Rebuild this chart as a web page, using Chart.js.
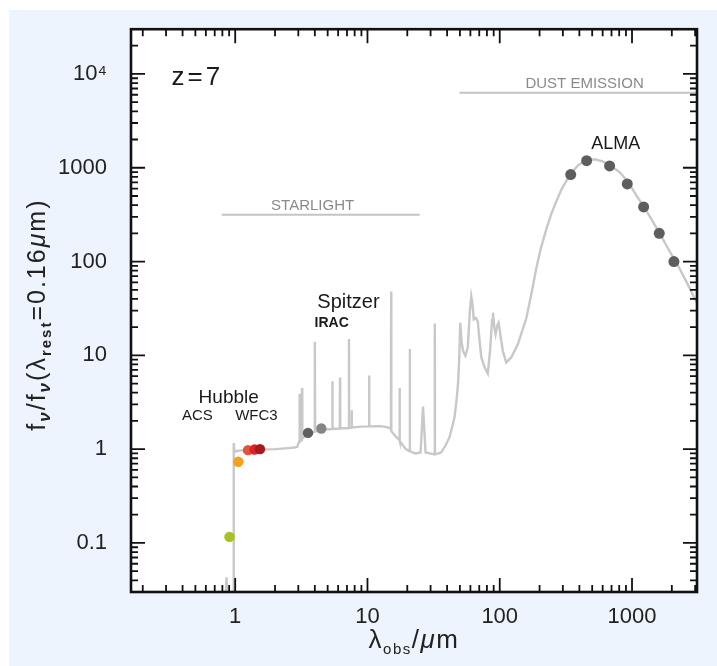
<!DOCTYPE html>
<html>
<head>
<meta charset="utf-8">
<script src="https://cdn.jsdelivr.net/npm/chart.js@4.4.1/dist/chart.umd.min.js"></script>
<style>
  html, body { margin: 0; padding: 0; background: #ffffff; }
  canvas { display: block; }
</style>
</head>
<body>
<canvas id="c" width="717" height="666"></canvas>
<script>
// ---------------- DATA ----------------
// Model SED (observed wavelength in micron, normalised flux)
const specWave = [0.80, 0.845, 0.86, 0.875, 0.97, 0.975, 0.985, 1.0, 1.05, 1.1, 1.2, 1.4, 1.7, 2.0, 2.4, 2.8, 2.95,
  3.0, 3.05, 3.07, 3.09, 3.15, 3.19, 3.2, 3.215, 3.4, 3.7, 3.98, 4.0, 4.02, 4.5, 5.0, 5.41, 5.43, 5.45,
  6.18, 6.2, 6.22, 7.23, 7.25, 7.27, 7.58, 7.6, 7.62, 9.0, 10.27, 10.3, 10.33, 12.5, 14.0, 15.05, 15.1, 15.15,
  16.5, 17.45, 17.5, 17.55, 18.5, 19.5, 20.85, 20.9, 20.95, 23.0, 25.2, 26.3, 27.5, 32.2, 32.3, 32.4,
  36, 39, 41.8, 44, 45.5, 47, 48.4, 49.5, 50.3, 51.5, 52.7, 55, 57.3, 59.5, 60.9, 62.3, 63.6, 66, 68.2,
  70.5, 72.6, 76.8, 81.2, 84.5, 87.5, 88.9, 91, 93, 96, 98, 101.5, 105.5, 111.8, 122, 137, 159, 175, 189,
  205, 226, 245, 267, 295, 327, 360, 390, 450, 521, 600, 700, 805, 940, 1075, 1250, 1440, 1650, 1930,
  2250, 2570, 3100];
const specFlux = [0.02, 0.025, 0.043, 0.025, 0.02, 1.16, 0.93, 0.95, 0.96, 0.97, 0.975, 0.985, 0.995, 1.0, 1.02, 1.04, 1.06,
  1.15, 1.2, 3.9, 1.22, 1.25, 1.28, 4.5, 1.3, 1.38, 1.47, 1.53, 14.0, 1.54, 1.6, 1.63, 1.64, 5.3, 1.64,
  1.66, 5.8, 1.66, 1.68, 14.9, 1.68, 1.7, 2.6, 1.7, 1.74, 1.75, 6.1, 1.75, 1.76, 1.72, 1.65, 48, 1.55,
  1.35, 1.25, 4.5, 1.22, 1.1, 1.0, 0.95, 11.7, 0.95, 0.9, 0.92, 2.85, 0.92, 0.88, 21.8, 0.88,
  0.92, 1.1, 1.35, 1.8, 2.2, 3.2, 5.0, 10, 22.3, 14, 11.2, 9.9, 12.1, 30, 42.7, 35, 24.2, 25, 23.2,
  14, 9.5, 7.45, 6.4, 11.2, 24, 28.5, 20, 16.8, 21, 22.3, 16, 11.2, 8.4, 9.5, 13.1, 25, 48, 85,
  140, 226, 320, 434, 600, 772, 930, 1060, 1200, 1230, 1170, 1030, 900, 700, 510, 370, 265, 190, 128,
  88, 61.5, 36];

// Photometry
const acsWave = [0.905, 1.055];
const acsFlux = [0.116, 0.733];
const wfc3Wave = [1.25, 1.40, 1.54];
const wfc3Flux = [0.976, 0.99, 1.0];
const iracWave = [3.55, 4.48];
const iracFlux = [1.49, 1.66];
const almaWave = [344, 454, 677, 921, 1224, 1607, 2074];
const almaFlux = [845, 1189, 1045, 673, 382, 200, 100];

// Emission component ranges
const starlightRange = [0.79, 24.8];
const starlightLevel = 316;
const dustRange = [49.6, 3100];
const dustLevel = 6300;

// Ticks
const xTickValues = [1, 10, 100, 1000];
const xTickLabels = ['1', '10', '100', '1000'];
const yTickValues = [0.1, 1, 10, 100, 1000, 10000];
const yTickLabels = ['0.1', '1', '10', '100', '1000', '10\u2074'];

// ---------------- STYLE ----------------
const FONT = '"Liberation Sans", Arial, sans-serif';
const acsColors = ['#a6c41e', '#f5a11c'];
const wfc3Colors = ['#e9523a', '#d8232a', '#a8191d'];
const iracColors = ['#5f5f5f', '#858585'];
const almaColor = '#5e5e5e';

const pts = (xs, ys) => xs.map((x, i) => ({ x: x, y: ys[i] }));

const bgPlugin = {
  id: 'bg',
  beforeDraw(chart) {
    const c = chart.ctx, a = chart.chartArea;
    c.save();
    c.fillStyle = '#ffffff';
    c.fillRect(0, 0, chart.width, chart.height);
    c.fillStyle = '#edf4fd';
    c.fillRect(9, 10, chart.width - 9, chart.height - 10);
    c.fillStyle = '#ffffff';
    c.fillRect(a.left, a.top, a.right - a.left, a.bottom - a.top);
    c.restore();
  }
};

function minorValues(min, max) {
  const out = [];
  for (let e = -3; e <= 5; e++) {
    for (let m = 1; m <= 9; m++) {
      const v = m * Math.pow(10, e);
      if (v >= min * 0.999 && v <= max * 1.001) out.push({ v: v, major: m === 1 });
    }
  }
  return out;
}

function richText(c, parts, x, y, align, spacing) {
  c.letterSpacing = (spacing || 0) + 'px';
  let total = 0;
  parts.forEach(p => { c.font = (p.style || '') + ' ' + p.size + 'px ' + FONT; p.w = c.measureText(p.t).width; total += p.w; });
  let cx = align === 'center' ? x - total / 2 : x;
  parts.forEach(p => {
    c.font = (p.style || '') + ' ' + p.size + 'px ' + FONT;
    c.textAlign = 'left';
    c.fillText(p.t, cx, y + (p.dy || 0));
    cx += p.w;
  });
  c.letterSpacing = '0px';
}

const framePlugin = {
  id: 'frame',
  afterDatasetsDraw(chart) {
    const c = chart.ctx, a = chart.chartArea;
    const xs = chart.scales.x, ys = chart.scales.y;
    c.save();
    // annotation texts
    c.textBaseline = 'middle';
    const put = (txt, wx, wy, font, align, color, spacing) => {
      c.font = font; c.textAlign = align; c.fillStyle = color || '#1a1a1a';
      c.letterSpacing = (spacing || 0) + 'px';
      c.fillText(txt, xs.getPixelForValue(wx), ys.getPixelForValue(wy));
      c.letterSpacing = '0px';
    };
    put('z=7', 0.33, 9200, '26px ' + FONT, 'left', '#1a1a1a', 3);
    put('Hubble', 0.893, 3.56, '19px ' + FONT, 'center');
    put('ACS', 0.518, 2.24, '15px ' + FONT, 'center');
    put('WFC3', 1.447, 2.24, '15px ' + FONT, 'center');
    put('Spitzer', 7.18, 37, '20px ' + FONT, 'center');
    put('IRAC', 5.36, 21.9, 'bold 14px ' + FONT, 'center');
    put('ALMA', 752, 1800, '18px ' + FONT, 'center');
    put('STARLIGHT', 3.85, 394, '15px ' + FONT, 'center', '#8a8a8a');
    put('DUST EMISSION', 438, 7900, '15px ' + FONT, 'center', '#8a8a8a');

    // ticks
    c.strokeStyle = '#111';
    c.lineWidth = 1.8;
    const MAJ = 14, MIN = 7;
    c.beginPath();
    minorValues(xs.min, xs.max).forEach(t => {
      const px = xs.getPixelForValue(t.v);
      const L = t.major ? MAJ : MIN;
      c.moveTo(px, a.bottom); c.lineTo(px, a.bottom - L);
      c.moveTo(px, a.top); c.lineTo(px, a.top + L);
    });
    minorValues(ys.min, ys.max).forEach(t => {
      const py = ys.getPixelForValue(t.v);
      const L = t.major ? MAJ : MIN;
      c.moveTo(a.left, py); c.lineTo(a.left + L, py);
      c.moveTo(a.right, py); c.lineTo(a.right - L, py);
    });
    c.stroke();
    // frame
    c.lineWidth = 2.6;
    c.strokeRect(a.left, a.top, a.right - a.left, a.bottom - a.top);

    // axis titles
    c.fillStyle = '#222';
    c.textBaseline = 'alphabetic';
    richText(c, [
      { t: '\u03BB', size: 26 },
      { t: 'obs', size: 15, dy: 6 },
      { t: '/', size: 26 },
      { t: '\u03BC', size: 26, style: 'italic' },
      { t: 'm', size: 26 }
    ], (a.left + a.right) / 2, 648, 'center', 1.5);

    c.translate(45, (a.top + a.bottom) / 2 + 4);
    c.rotate(-Math.PI / 2);
    richText(c, [
      { t: 'f', size: 25 },
      { t: '\u03BD', size: 17, style: 'italic bold', dy: 5 },
      { t: '/f', size: 25 },
      { t: '\u03BD', size: 17, style: 'italic bold', dy: 5 },
      { t: '(\u03BB', size: 25 },
      { t: 'rest', size: 15, style: 'bold', dy: 6 },
      { t: '=0.16', size: 25 },
      { t: '\u03BC', size: 25, style: 'italic' },
      { t: 'm)', size: 25 }
    ], 0, 0, 'center', 2);
    c.restore();
  }
};

const ctx = document.getElementById('c').getContext('2d');
new Chart(ctx, {
  type: 'scatter',
  data: {
    datasets: [
      { data: pts(specWave, specFlux), showLine: true, borderColor: '#c8c8c8', borderWidth: 2.4,
        pointRadius: 0, tension: 0, order: 5 },
      { data: pts(starlightRange, [starlightLevel, starlightLevel]), showLine: true, borderColor: '#c4c4c4',
        borderWidth: 2, pointRadius: 0, order: 4 },
      { data: pts(dustRange, [dustLevel, dustLevel]), showLine: true, borderColor: '#c4c4c4',
        borderWidth: 2, pointRadius: 0, order: 4 },
      { data: pts(acsWave, acsFlux), pointRadius: 5.2, pointBackgroundColor: acsColors, pointBorderWidth: 0, order: 1 },
      { data: pts(wfc3Wave, wfc3Flux), pointRadius: 5.2, pointBackgroundColor: wfc3Colors, pointBorderWidth: 0, order: 1 },
      { data: pts(iracWave, iracFlux), pointRadius: 5.2, pointBackgroundColor: iracColors, pointBorderWidth: 0, order: 1 },
      { data: pts(almaWave, almaFlux), pointRadius: 5.5, pointBackgroundColor: almaColor, pointBorderWidth: 0, order: 1 }
    ]
  },
  options: {
    responsive: false,
    animation: false,
    devicePixelRatio: 1,
    layout: { padding: { left: 0, right: 20, top: 25, bottom: 0 } },
    plugins: { legend: { display: false }, tooltip: { enabled: false } },
    events: [],
    scales: {
      x: {
        type: 'logarithmic', min: 0.163, max: 3100,
        afterBuildTicks: s => { s.ticks = xTickValues.map(v => ({ value: v })); },
        afterFit: s => { s.height = 74; },
        grid: { display: false },
        border: { display: false },
        ticks: {
          autoSkip: false, maxRotation: 0, padding: 4, color: '#222',
          font: { family: FONT, size: 22 },
          callback: (v) => { const i = xTickValues.indexOf(v); return i >= 0 ? xTickLabels[i] : ''; }
        }
      },
      y: {
        type: 'logarithmic', min: 0.03, max: 30000,
        afterBuildTicks: s => { s.ticks = yTickValues.map(v => ({ value: v })); },
        afterFit: s => { s.width = 131; },
        grid: { display: false },
        border: { display: false },
        ticks: {
          autoSkip: false, padding: 16, color: '#222',
          font: { family: FONT, size: 22 },
          callback: (v) => { const i = yTickValues.indexOf(v); return i >= 0 ? yTickLabels[i] : ''; }
        }
      }
    }
  },
  plugins: [bgPlugin, framePlugin]
});
</script>
</body>
</html>
